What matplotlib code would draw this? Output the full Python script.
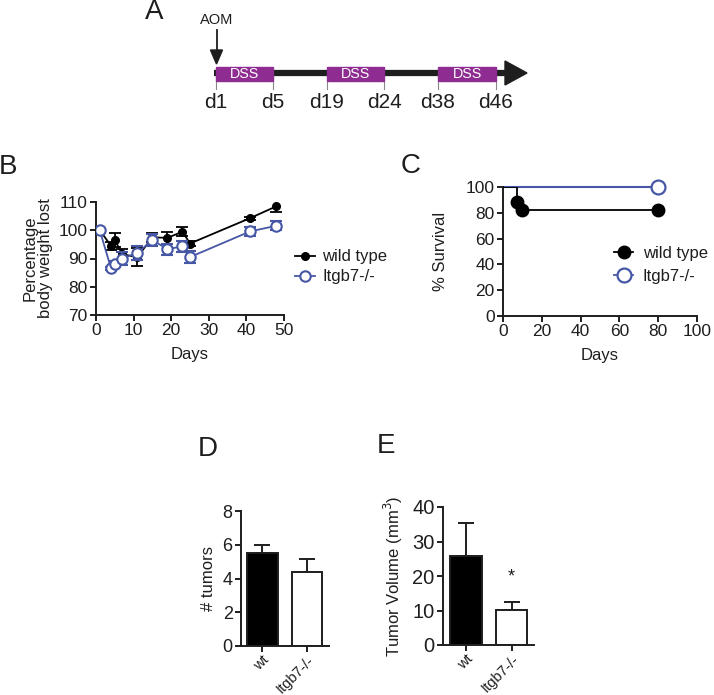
import matplotlib
matplotlib.use("Agg")
import matplotlib.pyplot as plt
from matplotlib.patches import Rectangle, Polygon
from matplotlib.lines import Line2D

plt.rcParams['font.family'] = ['Liberation Sans', 'DejaVu Sans']

# ---------------- data ----------------
# Panel A: schedule
timeline_days = ["d1", "d5", "d19", "d24", "d38", "d46"]
dss_label = "DSS"
aom_label = "AOM"

# Panel B: body weight
b_days = [1, 4, 5, 7, 11, 15, 19, 23, 25, 41, 48]
b_wt = [100, 94.5, 96.5, 91.5, 90.5, 97.5, 97.3, 99.5, 95.3, 104.3, 108.5]
b_wt_err = [0, 1.5, 2.5, 2.0, 3.2, 1.5, 2.0, 1.5, 1.0, 0.5, 2.0]
b_ko = [100, 86.5, 88.0, 90.0, 92.0, 96.5, 93.3, 94.3, 90.5, 99.6, 101.6]
b_ko_err = [0, 0.5, 1.0, 2.2, 2.5, 2.0, 2.0, 2.0, 2.0, 1.5, 1.5]

# Panel C: survival
c_wt_t = [0, 7, 10, 80]
c_wt_s = [100, 88, 82, 82]
c_ko_t = [0, 80]
c_ko_s = [100, 100]

# Panel D / E: bars
groups = ["wt", "Itgb7-/-"]
d_vals = [5.5, 4.4]
d_err = [0.48, 0.75]
e_vals = [25.9, 10.1]
e_err = [9.5, 2.5]

series_names = ["wild type", "Itgb7-/-"]
blue = "#4657A5"
purple = "#8E2C91"
ink = "#1e1e1e"

W, H = 714, 695
fig = plt.figure(figsize=(W / 100, H / 100), dpi=100)

def fax(x0, y0, x1, y1):
    return fig.add_axes([x0 / W, 1 - y1 / H, (x1 - x0) / W, (y1 - y0) / H])

TICK_FS = 12.5
LAB_FS = 12
LET_FS = 20

def style(ax, tfs=TICK_FS):
    for s in ["top", "right"]:
        ax.spines[s].set_visible(False)
    for s in ["left", "bottom"]:
        ax.spines[s].set_linewidth(1.4)
        ax.spines[s].set_color(ink)
    ax.tick_params(direction="out", length=4, width=1.4, labelsize=tfs, pad=2,
                   color=ink, labelcolor=ink)

# ---------------- overlay for A & letters ----------------
ov = fig.add_axes([0, 0, 1, 1], zorder=-1)
ov.set_xlim(0, W)
ov.set_ylim(H, 0)
ov.axis("off")

for letter, (lx, ly) in zip("ABCDE", [(154, 12), (8, 167), (411, 166), (208, 449), (386, 446)]):
    ov.text(lx, ly, letter, fontsize=LET_FS, ha="center", va="center", color=ink)

# timeline schematic (positions are layout)
tick_x = [216, 273, 327, 384, 438, 496]
line_y = 73
ov.plot([214, 510], [line_y, line_y], color=ink, lw=4.5, solid_capstyle="butt", zorder=1)
ov.add_patch(Polygon([[505, 61], [527, 73], [505, 85]], closed=True, color=ink, zorder=2))
for i in range(3):
    x0, x1 = tick_x[2 * i], tick_x[2 * i + 1]
    ov.add_patch(Rectangle((x0, 66.5), x1 - x0, 14, color=purple, zorder=3))
    ov.text((x0 + x1) / 2, 73.5, dss_label, color="white", fontsize=10.3, ha="center", va="center", zorder=4)
for x, lab in zip(tick_x, timeline_days):
    ov.plot([x, x], [80.5, 89], color="#888888", lw=0.8, zorder=2)
    ov.text(x, 102, lab, fontsize=15, ha="center", va="center", color=ink)
ov.text(216.5, 20, aom_label, fontsize=10.5, ha="center", va="center", color=ink)
ov.plot([216.5, 216.5], [30, 52], color=ink, lw=1.3)
ov.add_patch(Polygon([[210.5, 50], [222.5, 50], [216.5, 64]], closed=True, color=ink))

# ---------------- Panel B ----------------
axb = fax(96, 202, 284, 315)
style(axb)
axb.errorbar(b_days, b_wt, yerr=b_wt_err, color="black", marker="o", ms=5.5, lw=1.3,
             capsize=4, elinewidth=1.3, capthick=1.3, label=series_names[0], zorder=3)
axb.errorbar(b_days, b_ko, yerr=b_ko_err, color=blue, marker="o", ms=7.5, mfc="white",
             mec=blue, mew=1.5, lw=1.3, capsize=4, elinewidth=1.3, capthick=1.3,
             label=series_names[1], zorder=4)
axb.set_xlim(0, 50)
axb.set_ylim(70, 110)
axb.set_xticks([0, 10, 20, 30, 40, 50])
axb.set_yticks([70, 80, 90, 100, 110])
axb.set_ylabel("Percentage\nbody weight lost", fontsize=LAB_FS, labelpad=4, linespacing=1.05, color=ink)
axb.set_xlabel("Days", fontsize=LAB_FS, labelpad=6, color=ink)
hb = [Line2D([], [], color="black", marker="o", ms=5.5, lw=1.3),
      Line2D([], [], color=blue, marker="o", ms=7.5, mfc="white", mec=blue, mew=1.5, lw=1.3)]
legb = fig.legend(hb, series_names, loc="center left", bbox_to_anchor=(292 / W, 1 - 267 / H),
                  frameon=False, fontsize=LAB_FS, handlelength=1.2, handletextpad=0.4,
                  labelspacing=0.3, borderaxespad=0, borderpad=0.2)
for t in legb.get_texts():
    t.set_color(ink)

# ---------------- Panel C ----------------
axc = fax(503, 187, 697, 316)
style(axc)
axc.step(c_ko_t, c_ko_s, where="post", color=blue, lw=1.5, zorder=2, clip_on=False)
axc.plot(c_ko_t[-1:], c_ko_s[-1:], "o", ms=10, mfc="white", mec=blue, mew=1.6, zorder=4, clip_on=False)
axc.step(c_wt_t, c_wt_s, where="post", color="black", lw=1.3, zorder=3)
axc.plot(c_wt_t[1:], c_wt_s[1:], "o", ms=9, color="black", zorder=4)
axc.set_xlim(0, 100)
axc.set_ylim(0, 100)
axc.set_xticks([0, 20, 40, 60, 80, 100])
axc.set_yticks([0, 20, 40, 60, 80, 100])
axc.set_ylabel("% Survival", fontsize=LAB_FS, labelpad=13, color=ink)
axc.set_xlabel("Days", fontsize=LAB_FS, labelpad=6, color=ink)
hc = [Line2D([], [], color="black", marker="o", ms=9, lw=1.3),
      Line2D([], [], color=blue, marker="o", ms=10, mfc="white", mec=blue, mew=1.6, lw=1.3)]
legc = fig.legend(hc, series_names, loc="center left", bbox_to_anchor=(611 / W, 1 - 265 / H),
                  frameon=False, fontsize=LAB_FS, handlelength=1.1, handletextpad=0.6,
                  labelspacing=0.45, borderaxespad=0, borderpad=0.2)
for t in legc.get_texts():
    t.set_color(ink)

# ---------------- Panel D / E ----------------
def bars(ax, vals, errs):
    x = list(range(len(vals)))
    ax.bar(x, vals, width=0.69, color=["black", "white"], edgecolor=ink, linewidth=1.4, zorder=2)
    for xi, v, e in zip(x, vals, errs):
        ax.errorbar([xi], [v], yerr=[[0], [e]], color=ink, lw=1.4, capsize=5.5,
                    capthick=1.4, elinewidth=1.4, zorder=1)
    ax.set_xticks(x)
    ax.set_xticklabels(groups, rotation=45, ha="right", va="top", rotation_mode="anchor", fontsize=10.5)
    ax.tick_params(axis="x", pad=1)
    ax.set_xlim(-0.47, 1.49)

axd = fax(241, 511, 329, 646)
style(axd, 13)
bars(axd, d_vals, d_err)
axd.set_ylim(0, 8)
axd.set_yticks([0, 2, 4, 6, 8])
axd.set_ylabel("# tumors", fontsize=LAB_FS, labelpad=5, color=ink)

axe = fax(443, 507, 534, 645)
style(axe, 14.5)
bars(axe, e_vals, e_err)
axe.set_xlim(-0.5, 1.49)
axe.set_ylim(0, 40)
axe.set_yticks([0, 10, 20, 30, 40])
axe.set_ylabel("Tumor Volume (mm$^3$)", fontsize=LAB_FS, labelpad=5, color=ink)
axe.text(1, e_vals[1] + e_err[1] + 7, "*", fontsize=13, ha="center", va="center", color=ink)

fig.savefig("out.png", dpi=100)
